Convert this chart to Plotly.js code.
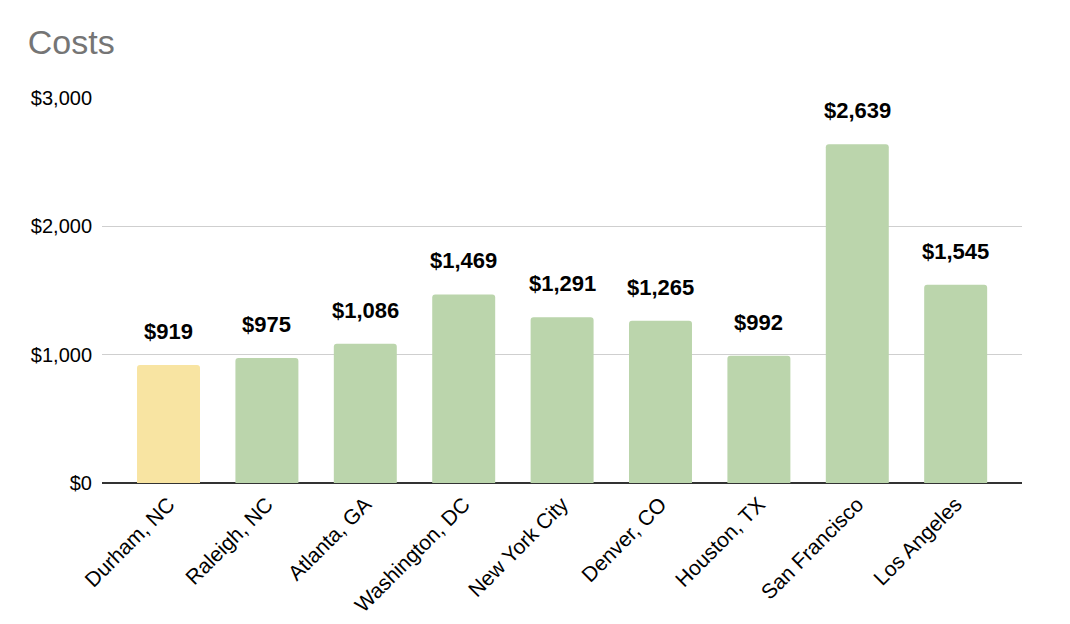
<!DOCTYPE html>
<html>
<head>
<meta charset="utf-8">
<script src="https://cdn.plot.ly/plotly-3.0.1.min.js"></script>
<style>
  body { margin: 0; background: #fff; }
  #chart { width: 1070px; height: 624px; }
</style>
</head>
<body>
<div id="chart"></div>
<script>
// city cost data
const cities = ['Durham, NC', 'Raleigh, NC', 'Atlanta, GA', 'Washington, DC', 'New York City',
                'Denver, CO', 'Houston, TX', 'San Francisco', 'Los Angeles'];
const costs = [919, 975, 1086, 1469, 1291, 1265, 992, 2639, 1545];
const tickVals = [0, 1000, 2000, 3000];
const tickText = ['$0', '$1,000', '$2,000', '$3,000'];

const fmt = v => '$' + v.toLocaleString('en-US');

const barColors = cities.map((c, i) => i === 0 ? '#f8e4a2' : '#bbd5ac');

const data = [{
  type: 'bar',
  x: cities,
  y: costs,
  width: 0.64,
  marker: { color: barColors, cornerradius: 3 },
  hoverinfo: 'x+y'
}];

// value labels sit a fair bit above each bar
const annotations = cities.map((c, i) => ({
  x: c, y: costs[i], xref: 'x', yref: 'y',
  text: '<b>' + fmt(costs[i]) + '</b>',
  showarrow: false, yanchor: 'bottom', yshift: 19,
  font: { family: 'Liberation Sans, Arial, sans-serif', size: 22, color: '#000' }
}));

const layout = {
  width: 1070, height: 624,
  margin: { l: 102, r: 48, t: 98, b: 141 },
  paper_bgcolor: '#fff', plot_bgcolor: '#fff',
  font: { family: 'Liberation Sans, Arial, sans-serif', color: '#000', size: 20 },
  title: { text: 'Costs', x: 0.026, xanchor: 'left', y: 0.932, yanchor: 'middle',
           font: { size: 34, color: '#757575' } },
  showlegend: false,
  xaxis: {
    range: [-0.676, 8.674],
    tickangle: -45,
    tickfont: { size: 21 },
    showgrid: false,
    showline: false,
    ticks: '',
    ticklabelstandoff: 4
  },
  yaxis: {
    range: [0, 3000],
    tickvals: tickVals,
    ticktext: tickText,
    tickfont: { size: 20 },
    gridcolor: '#cfcfcf',
    gridwidth: 1.2,
    zeroline: true,
    zerolinecolor: '#333',
    zerolinewidth: 1.5,
    ticks: '',
    ticklabelstandoff: 9
  },
  annotations: annotations
};

Plotly.newPlot('chart', data, layout, { displayModeBar: false });
</script>
</body>
</html>
